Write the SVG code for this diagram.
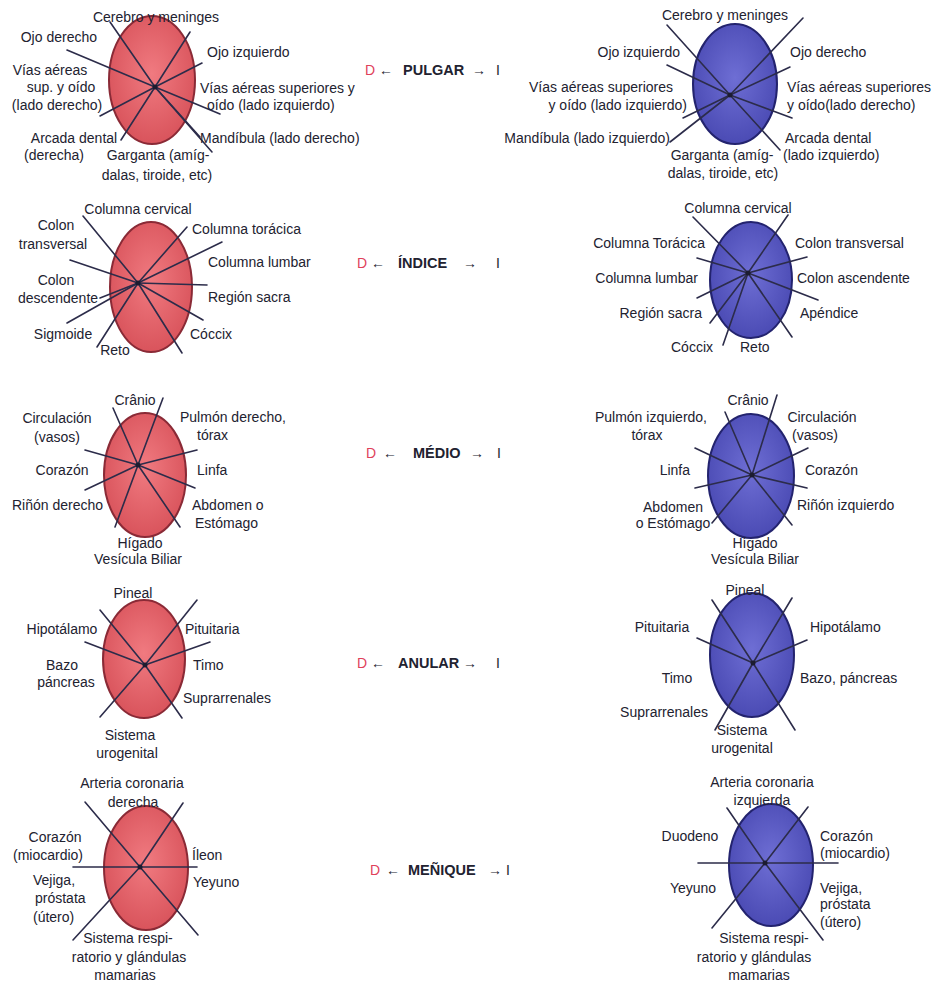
<svg xmlns="http://www.w3.org/2000/svg" width="939" height="985" viewBox="0 0 939 985">
<defs>
<radialGradient id="gr" cx="50%" cy="45%" r="55%"><stop offset="0" stop-color="#f07a80"/><stop offset="1" stop-color="#d9545c"/></radialGradient>
<radialGradient id="gb" cx="50%" cy="45%" r="55%"><stop offset="0" stop-color="#6e6ed4"/><stop offset="1" stop-color="#4b4bb4"/></radialGradient>
<style>
.r{fill:url(#gr);stroke:#8a2a36;stroke-width:2}
.b{fill:url(#gb);stroke:#23236e;stroke-width:2}
.ln line{stroke:#2c2c4a;stroke-width:1.6;stroke-linecap:round}
.hub{fill:#1c1c30}
text{font-family:"Liberation Sans",Arial,sans-serif;font-size:14px;fill:#222230}
.m{text-anchor:middle}
.e{text-anchor:end}
.lab{font-weight:bold;font-size:14.5px}
.d{fill:#e0405a}
</style>
</defs>
<rect width="939" height="985" fill="#ffffff"/>

<!-- Row 1 PULGAR -->
<g id="pulgar-d">
<ellipse class="r" cx="152" cy="80" rx="43" ry="64"/>
<g class="ln">
<line x1="155" y1="87" x2="110" y2="22"/><line x1="155" y1="87" x2="67" y2="50"/><line x1="155" y1="87" x2="100" y2="116"/><line x1="155" y1="87" x2="121" y2="140"/><line x1="155" y1="87" x2="190" y2="32"/><line x1="155" y1="87" x2="202" y2="63"/><line x1="155" y1="87" x2="220" y2="114"/><line x1="155" y1="87" x2="200" y2="137"/><line x1="155" y1="87" x2="212" y2="152"/>
</g>
<circle class="hub" cx="155" cy="87" r="2.5"/>
<text class="m" x="156" y="22">Cerebro y meninges</text>
<text class="e" x="97" y="42">Ojo derecho</text>
<text x="207" y="57">Ojo izquierdo</text>
<text class="m" x="50" y="75">Vías aéreas</text>
<text class="m" x="61" y="92">sup. y  oído</text>
<text class="m" x="57" y="110">(lado derecho)</text>
<text x="200" y="93">Vías aéreas superiores y</text>
<text x="207" y="110">oído (lado izquierdo)</text>
<text class="m" x="74" y="143">Arcada dental</text>
<text class="m" x="54" y="160">(derecha)</text>
<text class="m" x="158" y="160">Garganta (amíg-</text>
<text class="m" x="157" y="180">dalas, tiroide, etc)</text>
<text x="200" y="143">Mandíbula (lado derecho)</text>
</g>
<g id="pulgar-i">
<ellipse class="b" cx="735" cy="84" rx="42" ry="60"/>
<g class="ln">
<line x1="730" y1="95" x2="667" y2="25"/><line x1="730" y1="95" x2="803" y2="18"/><line x1="730" y1="95" x2="667" y2="65"/><line x1="730" y1="95" x2="790" y2="67"/><line x1="730" y1="95" x2="683" y2="118"/><line x1="730" y1="95" x2="792" y2="118"/><line x1="730" y1="95" x2="670" y2="142"/><line x1="730" y1="95" x2="780" y2="150"/>
</g>
<circle class="hub" cx="730" cy="95" r="2.5"/>
<text class="m" x="725" y="20">Cerebro y meninges</text>
<text class="e" x="680" y="57">Ojo izquierdo</text>
<text x="790" y="57">Ojo derecho</text>
<text class="e" x="673" y="92">Vías aéreas superiores</text>
<text class="e" x="687" y="110">y oído (lado izquierdo)</text>
<text x="787" y="92">Vías aéreas superiores</text>
<text x="787" y="110">y oído(lado derecho)</text>
<text class="e" x="670" y="143">Mandíbula (lado izquierdo)</text>
<text x="785" y="143">Arcada dental</text>
<text x="783" y="160">(lado izquierdo)</text>
<text class="m" x="722" y="160">Garganta (amíg-</text>
<text class="m" x="723" y="178">dalas, tiroide, etc)</text>
</g>
<g id="label-pulgar">
<text class="d" x="365" y="75">D</text><text x="379" y="75">←</text><text class="lab" x="403" y="75">PULGAR</text><text x="472" y="75">→</text><text x="496" y="75">I</text>
</g>

<!-- Row 2 INDICE -->
<g id="indice-d">
<ellipse class="r" cx="151" cy="287" rx="41" ry="65"/>
<g class="ln">
<line x1="138" y1="283" x2="83" y2="216"/><line x1="138" y1="283" x2="187" y2="227"/><line x1="138" y1="283" x2="222" y2="242"/><line x1="138" y1="283" x2="207" y2="285"/><line x1="138" y1="283" x2="203" y2="320"/><line x1="138" y1="283" x2="182" y2="353"/><line x1="138" y1="283" x2="97" y2="347"/><line x1="138" y1="283" x2="67" y2="323"/><line x1="138" y1="283" x2="100" y2="298"/><line x1="138" y1="283" x2="70" y2="260"/>
</g>
<circle class="hub" cx="138" cy="283" r="2.5"/>
<text class="m" x="138" y="214">Columna cervical</text>
<text class="m" x="56" y="230">Colon</text>
<text class="m" x="53" y="249">transversal</text>
<text x="192" y="234">Columna torácica</text>
<text x="208" y="267">Columna lumbar</text>
<text class="m" x="56" y="285">Colon</text>
<text class="m" x="58" y="303">descendente</text>
<text x="208" y="302">Región sacra</text>
<text class="m" x="63" y="339">Sigmoide</text>
<text x="190" y="339">Cóccix</text>
<text class="m" x="115" y="355">Reto</text>
</g>
<g id="indice-i">
<ellipse class="b" cx="751" cy="280" rx="41" ry="58"/>
<g class="ln">
<line x1="748" y1="273" x2="693" y2="217"/><line x1="748" y1="273" x2="788" y2="215"/><line x1="748" y1="273" x2="697" y2="258"/><line x1="748" y1="273" x2="807" y2="257"/><line x1="748" y1="273" x2="697" y2="298"/><line x1="748" y1="273" x2="818" y2="300"/><line x1="748" y1="273" x2="710" y2="323"/><line x1="748" y1="273" x2="792" y2="337"/><line x1="748" y1="273" x2="723" y2="345"/>
</g>
<circle class="hub" cx="748" cy="273" r="2.5"/>
<text class="m" x="738" y="213">Columna cervical</text>
<text class="e" x="705" y="248">Columna Torácica</text>
<text x="795" y="248">Colon transversal</text>
<text class="e" x="698" y="283">Columna lumbar</text>
<text x="797" y="283">Colon ascendente</text>
<text class="e" x="702" y="318">Región  sacra</text>
<text x="800" y="318">Apéndice</text>
<text class="e" x="713" y="352">Cóccix</text>
<text x="740" y="352">Reto</text>
</g>
<g id="label-indice">
<text class="d" x="357" y="268">D</text><text x="371" y="268">←</text><text class="lab" x="398" y="268">ÍNDICE</text><text x="463" y="268">→</text><text x="496" y="268">I</text>
</g>

<!-- Row 3 MEDIO -->
<g id="medio-d">
<ellipse class="r" cx="145" cy="475" rx="41" ry="62"/>
<g class="ln">
<line x1="138" y1="465" x2="113" y2="408"/><line x1="138" y1="465" x2="163" y2="398"/><line x1="138" y1="465" x2="85" y2="450"/><line x1="138" y1="465" x2="197" y2="450"/><line x1="138" y1="465" x2="85" y2="490"/><line x1="138" y1="465" x2="195" y2="488"/><line x1="138" y1="465" x2="115" y2="527"/><line x1="138" y1="465" x2="180" y2="527"/>
</g>
<circle class="hub" cx="138" cy="465" r="2.5"/>
<text class="m" x="135" y="405">Crânio</text>
<text class="m" x="57" y="423">Circulación</text>
<text class="m" x="57" y="442">(vasos)</text>
<text x="180" y="422">Pulmón derecho,</text>
<text x="197" y="440">tórax</text>
<text class="m" x="62" y="475">Corazón</text>
<text x="197" y="475">Linfa</text>
<text class="e" x="103" y="510">Riñón derecho</text>
<text x="192" y="510">Abdomen o</text>
<text x="195" y="528">Estómago</text>
<text class="m" x="140" y="548">Hígado</text>
<text class="m" x="138" y="564">Vesícula Biliar</text>
</g>
<g id="medio-i">
<ellipse class="b" cx="751" cy="476" rx="43" ry="62"/>
<g class="ln">
<line x1="752" y1="475" x2="725" y2="412"/><line x1="752" y1="475" x2="777" y2="395"/><line x1="752" y1="475" x2="695" y2="448"/><line x1="752" y1="475" x2="808" y2="448"/><line x1="752" y1="475" x2="695" y2="488"/><line x1="752" y1="475" x2="807" y2="488"/><line x1="752" y1="475" x2="712" y2="523"/><line x1="752" y1="475" x2="792" y2="525"/>
</g>
<circle class="hub" cx="752" cy="475" r="2.5"/>
<text class="m" x="748" y="405">Crânio</text>
<text class="e" x="707" y="422">Pulmón izquierdo,</text>
<text class="m" x="647" y="440">tórax</text>
<text class="m" x="822" y="422">Circulación</text>
<text class="m" x="815" y="440">(vasos)</text>
<text class="e" x="690" y="475">Linfa</text>
<text x="805" y="475">Corazón</text>
<text class="m" x="673" y="512">Abdomen</text>
<text class="m" x="673" y="528">o Estómago</text>
<text x="797" y="510">Riñón izquierdo</text>
<text class="m" x="755" y="548">Hígado</text>
<text class="m" x="755" y="564">Vesícula Biliar</text>
</g>
<g id="label-medio">
<text class="d" x="366" y="458">D</text><text x="383" y="458">←</text><text class="lab" x="413" y="458">MÉDIO</text><text x="470" y="458">→</text><text x="497" y="458">I</text>
</g>

<!-- Row 4 ANULAR -->
<g id="anular-d">
<ellipse class="r" cx="144" cy="659" rx="41" ry="59"/>
<g class="ln">
<line x1="145" y1="665" x2="100" y2="610"/><line x1="145" y1="665" x2="197" y2="600"/><line x1="145" y1="665" x2="85" y2="642"/><line x1="145" y1="665" x2="210" y2="642"/><line x1="145" y1="665" x2="100" y2="717"/><line x1="145" y1="665" x2="182" y2="718"/>
</g>
<circle class="hub" cx="145" cy="665" r="2.5"/>
<text class="m" x="133" y="598">Pineal</text>
<text class="m" x="62" y="634">Hipotálamo</text>
<text x="185" y="634">Pituitaria</text>
<text class="m" x="62" y="670">Bazo</text>
<text class="m" x="66" y="687">páncreas</text>
<text x="193" y="670">Timo</text>
<text x="183" y="703">Suprarrenales</text>
<text class="m" x="130" y="740">Sistema</text>
<text class="m" x="127" y="758">urogenital</text>
</g>
<g id="anular-i">
<ellipse class="b" cx="752" cy="655" rx="42" ry="62"/>
<g class="ln">
<line x1="753" y1="663" x2="712" y2="600"/><line x1="753" y1="663" x2="792" y2="598"/><line x1="753" y1="663" x2="697" y2="638"/><line x1="753" y1="663" x2="807" y2="640"/><line x1="753" y1="663" x2="715" y2="730"/><line x1="753" y1="663" x2="795" y2="730"/>
</g>
<circle class="hub" cx="753" cy="663" r="2.5"/>
<text class="m" x="745" y="595">Pineal</text>
<text class="m" x="662" y="632">Pituitaria</text>
<text x="810" y="632">Hipotálamo</text>
<text class="m" x="677" y="683">Timo</text>
<text x="800" y="683">Bazo, páncreas</text>
<text class="e" x="708" y="717">Suprarrenales</text>
<text class="m" x="742" y="735">Sistema</text>
<text class="m" x="742" y="753">urogenital</text>
</g>
<g id="label-anular">
<text class="d" x="357" y="668">D</text><text x="371" y="668">←</text><text class="lab" x="398" y="668">ANULAR</text><text x="463" y="668">→</text><text x="496" y="668">I</text>
</g>

<!-- Row 5 MENIQUE -->
<g id="menique-d">
<ellipse class="r" cx="146" cy="868" rx="42" ry="62"/>
<g class="ln">
<line x1="140" y1="867" x2="85" y2="802"/><line x1="140" y1="867" x2="183" y2="803"/><line x1="140" y1="867" x2="73" y2="867"/><line x1="140" y1="867" x2="197" y2="867"/><line x1="140" y1="867" x2="73" y2="940"/><line x1="140" y1="867" x2="198" y2="935"/>
</g>
<circle class="hub" cx="140" cy="867" r="2.5"/>
<text class="m" x="132" y="788">Arteria coronaria</text>
<text class="m" x="133" y="807">derecha</text>
<text class="m" x="55" y="842">Corazón</text>
<text class="m" x="48" y="860">(miocardio)</text>
<text x="192" y="860">Íleon</text>
<text x="193" y="887">Yeyuno</text>
<text x="33" y="885">Vejiga,</text>
<text x="35" y="903">próstata</text>
<text x="33" y="922">(útero)</text>
<text class="m" x="128" y="943">Sistema respi-</text>
<text class="m" x="129" y="962">ratorio y glándulas</text>
<text class="m" x="125" y="980">mamarias</text>
</g>
<g id="menique-i">
<ellipse class="b" cx="771" cy="865" rx="42" ry="61"/>
<g class="ln">
<line x1="765" y1="863" x2="727" y2="808"/><line x1="765" y1="863" x2="808" y2="807"/><line x1="765" y1="863" x2="698" y2="863"/><line x1="765" y1="863" x2="838" y2="863"/><line x1="765" y1="863" x2="712" y2="928"/><line x1="765" y1="863" x2="823" y2="940"/>
</g>
<circle class="hub" cx="765" cy="863" r="2.5"/>
<text class="m" x="762" y="787">Arteria coronaria</text>
<text class="m" x="762" y="805">izquierda</text>
<text class="m" x="690" y="841">Duodeno</text>
<text x="820" y="841">Corazón</text>
<text x="820" y="858">(miocardio)</text>
<text class="m" x="693" y="893">Yeyuno</text>
<text x="820" y="893">Vejiga,</text>
<text x="820" y="909">próstata</text>
<text x="820" y="927">(útero)</text>
<text class="m" x="764" y="943">Sistema respi-</text>
<text class="m" x="754" y="962">ratorio y glándulas</text>
<text class="m" x="759" y="980">mamarias</text>
</g>
<g id="label-menique">
<text class="d" x="370" y="875">D</text><text x="386" y="875">←</text><text class="lab" x="408" y="875">MEÑIQUE</text><text x="488" y="875">→</text><text x="506" y="875">I</text>
</g>
</svg>
